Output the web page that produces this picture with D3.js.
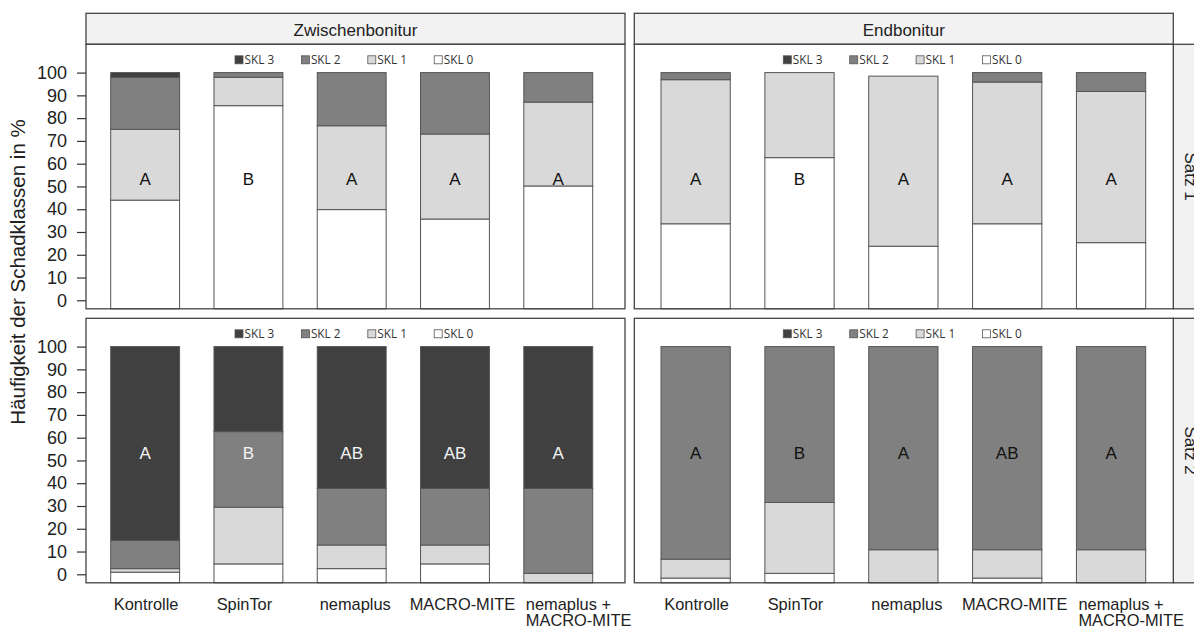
<!DOCTYPE html>
<html>
<head>
<meta charset="utf-8">
<script src="https://cdn.jsdelivr.net/npm/d3@7"></script>
<style>
	body { margin: 0; background: #fff; }
	svg { display: block; font-family: Arial, "Liberation Sans", sans-serif; }
</style>
</head>
<body>
<svg id="chart" width="1194" height="628"></svg>
<script>
var categories = ['Kontrolle', 'SpinTor', 'nemaplus', 'MACRO-MITE', 'nemaplus +|MACRO-MITE'];
var columns = ['Zwischenbonitur', 'Endbonitur'];
var rows = ['Satz 1', 'Satz 2'];
var classKeys = ['skl0', 'skl1', 'skl2', 'skl3'];
var legendLabels = ['SKL 3', 'SKL 2', 'SKL 1', 'SKL 0'];
var yTicks = [0, 10, 20, 30, 40, 50, 60, 70, 80, 90, 100];

// share per treatment in %: [SKL 0, SKL 1, SKL 2, SKL 3]
var zwischenSatz1 = [[46, 30, 22, 2], [86, 12, 2, 0], [42, 35.5, 22.5, 0], [38, 36, 26, 0], [52, 35.5, 12.5, 0]];
var endSatz1 = [[36, 61, 3, 0], [64, 36, 0, 0], [26.5, 72, 0, 0], [36, 60, 4, 0], [28, 64, 8, 0]];
var zwischenSatz2 = [[4.5, 1.5, 12, 82], [8, 24, 32, 36], [6, 10, 24, 60], [8, 8, 24, 60], [0, 4, 36, 60]];
var endSatz2 = [[2, 8, 90, 0], [4, 30, 66, 0], [0, 14, 86, 0], [2, 12, 86, 0], [0, 14, 86, 0]];

var lettersZwischen1 = ['A', 'B', 'A', 'A', 'A'];
var lettersEnd1 = ['A', 'B', 'A', 'A', 'A'];
var lettersZwischen2 = ['A', 'B', 'AB', 'AB', 'A'];
var lettersEnd2 = ['A', 'B', 'A', 'AB', 'A'];

var letterLevel = 55;

// layout
var colX = [86, 634.3], panelW = 539;
var rowY = [44.3, 318.3], panelH = 264.5;
var stripTop = 13.3, stripH = 31;
var barInset = [[24.7, 32.3], [26.7, 27.6]];
var labelShift = [1, -4, 3.5, 7.5];

var classColors = {skl0: '#ffffff', skl1: '#d9d9d9', skl2: '#808080', skl3: '#404040'};
var legendColors = ['#404040', '#808080', '#d9d9d9', '#ffffff'];

var panels = [
	{col: 0, row: 0, values: zwischenSatz1, letters: lettersZwischen1, letterColor: '#111'},
	{col: 1, row: 0, values: endSatz1, letters: lettersEnd1, letterColor: '#111'},
	{col: 0, row: 1, values: zwischenSatz2, letters: lettersZwischen2, letterColor: '#f4f4f4'},
	{col: 1, row: 1, values: endSatz2, letters: lettersEnd2, letterColor: '#111'}
];

var svg = d3.select('#chart');

var yBar = d3.scaleLinear().domain([0, 100]).range([panelH, 28.3]);
var yAxisScale = d3.scaleLinear().domain([0, 100]).range([256, 28.3]);

var stack = d3.stack().keys(classKeys);

// column strips
columns.forEach(function(name, c) {
	var g = svg.append('g').attr('transform', 'translate(' + colX[c] + ',' + stripTop + ')');
	g.append('rect')
		.attr('width', panelW).attr('height', stripH)
		.attr('fill', '#f2f2f2').attr('stroke', '#444').attr('stroke-width', 1.3);
	g.append('text')
		.attr('x', panelW / 2).attr('y', 23.2)
		.attr('text-anchor', 'middle')
		.attr('font-size', 17).attr('fill', '#222')
		.text(name);
});

// row strips on the right (cut by the edge of the picture)
rows.forEach(function(name, r) {
	var x0 = colX[1] + panelW;
	var g = svg.append('g').attr('transform', 'translate(' + x0 + ',' + rowY[r] + ')');
	g.append('rect')
		.attr('width', stripH).attr('height', panelH)
		.attr('fill', '#f2f2f2').attr('stroke', '#444').attr('stroke-width', 1.3);
	g.append('text')
		.attr('transform', 'translate(' + (stripH / 2 - 4) + ',' + (panelH / 2) + ') rotate(90)')
		.attr('text-anchor', 'middle')
		.attr('font-size', 17).attr('fill', '#222')
		.text(name);
});

panels.forEach(function(p) {
	var g = svg.append('g').attr('transform', 'translate(' + colX[p.col] + ',' + rowY[p.row] + ')');

	var x = d3.scaleBand()
		.domain(categories)
		.range([barInset[p.col][0], panelW - barInset[p.col][1]])
		.paddingInner(0.333)
		.paddingOuter(0);

	g.append('rect')
		.attr('width', panelW).attr('height', panelH)
		.attr('fill', '#fff');

	var table = p.values.map(function(v, i) {
		return {cat: categories[i], skl0: v[0], skl1: v[1], skl2: v[2], skl3: v[3]};
	});
	var series = stack(table);

	g.selectAll('g.layer')
		.data(series)
		.enter()
		.append('g')
		.attr('class', 'layer')
		.attr('fill', function(d) { return classColors[d.key]; })
		.each(function(layer) {
			d3.select(this)
				.selectAll('rect')
				.data(layer.filter(function(d) { return d[1] - d[0] > 0; }))
				.enter()
				.append('rect')
				.attr('x', function(d) { return x(d.data.cat); })
				.attr('width', x.bandwidth())
				.attr('y', function(d) { return yBar(d[1]); })
				.attr('height', function(d) { return yBar(d[0]) - yBar(d[1]); })
				.attr('stroke', '#555')
				.attr('stroke-width', 1);
		});

	g.selectAll('text.letter')
		.data(p.letters)
		.enter()
		.append('text')
		.attr('class', 'letter')
		.attr('x', function(d, i) { return x(categories[i]) + x.bandwidth() / 2; })
		.attr('y', yBar(letterLevel))
		.attr('dy', '0.36em')
		.attr('text-anchor', 'middle')
		.attr('font-size', 17)
		.attr('fill', p.letterColor)
		.text(function(d) { return d; });

	// legend
	var legend = g.append('g').attr('transform', 'translate(' + (panelW / 2 - 120.5) + ',15.5)');
	var item = legend.selectAll('g.item')
		.data(legendLabels)
		.enter()
		.append('g')
		.attr('class', 'item')
		.attr('transform', function(d, i) { return 'translate(' + (i * 66.4) + ',0)'; });
	item.append('rect')
		.attr('x', 0).attr('y', -4)
		.attr('width', 8).attr('height', 8)
		.attr('fill', function(d, i) { return legendColors[i]; })
		.attr('stroke', '#555').attr('stroke-width', 0.8);
	item.append('text')
		.attr('x', 9.5).attr('y', 4.3)
		.attr('font-family', '"Open Sans", sans-serif')
		.attr('font-size', 11.8)
		.attr('fill', '#333')
		.text(function(d) { return d; });

	g.append('rect')
		.attr('width', panelW).attr('height', panelH)
		.attr('fill', 'none').attr('stroke', '#444').attr('stroke-width', 1.3);

	if (p.col === 0) {
		var axis = g.append('g')
			.call(d3.axisLeft(yAxisScale).tickValues(yTicks).tickSize(9).tickPadding(10));
		axis.select('.domain').remove();
		axis.selectAll('line').attr('stroke', '#333').attr('stroke-width', 1.2);
		axis.selectAll('text')
			.attr('font-size', 18).attr('fill', '#222')
			.attr('font-family', 'Arial, "Liberation Sans", sans-serif');
	}

	if (p.row === 1) {
		g.selectAll('text.cat')
			.data(categories)
			.enter()
			.append('text')
			.attr('class', 'cat')
			.attr('font-size', 16.4)
			.attr('fill', '#222')
			.each(function(d, i) {
				var lines = d.split('|');
				var t = d3.select(this);
				if (lines.length > 1) {
					t.attr('text-anchor', 'start');
					lines.forEach(function(line, j) {
						t.append('tspan')
							.attr('x', x(d) + 2)
							.attr('y', panelH + 27.5 + j * 16)
							.text(line);
					});
				}
				else {
					t.attr('text-anchor', 'middle')
						.attr('x', x(d) + x.bandwidth() / 2 + labelShift[i])
						.attr('y', panelH + 27.5)
						.text(d);
				}
			});
	}
});

svg.append('text')
	.attr('transform', 'translate(24.5,272) rotate(-90)')
	.attr('text-anchor', 'middle')
	.attr('font-size', 20.5)
	.attr('fill', '#222')
	.text('Häufigkeit der Schadklassen in %');
</script>
</body>
</html>
